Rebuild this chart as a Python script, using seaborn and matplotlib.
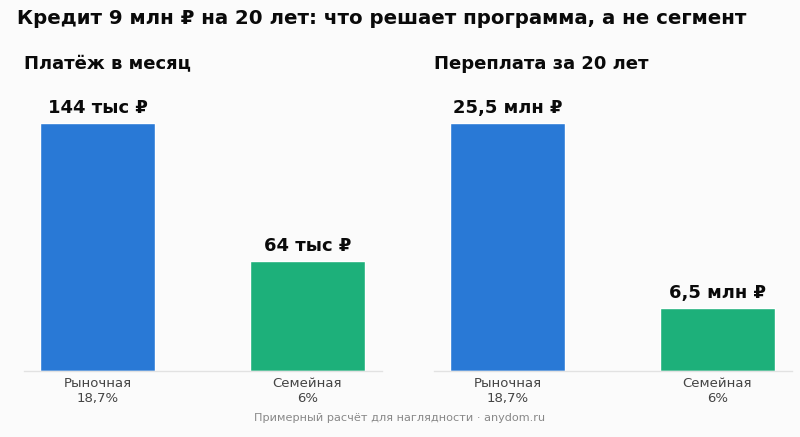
import numpy as np
import pandas as pd
import matplotlib
matplotlib.use("Agg")
import matplotlib.pyplot as plt
import seaborn as sns

sns.set_theme(style="white")
plt.rcParams["font.family"] = ["DejaVu Sans"]

# -------- data --------
categories = ["Рыночная\n18,7%", "Семейная\n6%"]
payment_k = [144, 64]            # тыс ₽ в месяц
overpay_m = [25.5, 6.5]          # млн ₽ за 20 лет
payment_labels = ["144 тыс ₽", "64 тыс ₽"]
overpay_labels = ["25,5 млн ₽", "6,5 млн ₽"]
panel_titles = ["Платёж в месяц", "Переплата за 20 лет"]
colors = ["#2979D6", "#1DB07A"]
BG = "#FBFBFB"

fig = plt.figure(figsize=(8, 4.37), dpi=100, facecolor=BG)
ax1 = fig.add_axes([0.03, 0.151, 0.4475, 0.643])
ax2 = fig.add_axes([0.5425, 0.151, 0.4475, 0.643])

panels = [
    (ax1, payment_k, payment_labels, panel_titles[0]),
    (ax2, overpay_m, overpay_labels, panel_titles[1]),
]
for ax, vals, labels, title in panels:
    ax.set_facecolor(BG)
    df = pd.DataFrame({"cat": categories, "val": vals})
    sns.barplot(data=df, x="cat", y="val", hue="cat", palette=colors,
                width=0.55, legend=False, ax=ax, saturation=1)
    ax.set_xlim(-0.35, 1.355)
    ax.set_ylim(0, max(vals) * 1.133)
    for i, (v, lab) in enumerate(zip(vals, labels)):
        ax.annotate(lab, (i, v), xytext=(0, 4), textcoords="offset points",
                    ha="center", va="bottom", fontsize=13, fontweight="bold",
                    color="#0A0A0A")
    ax.set_title(title, loc="left", fontsize=13, fontweight="bold",
                 color="#0A0A0A", pad=15, x=0.0)
    ax.set_xlabel("")
    ax.set_ylabel("")
    ax.set_yticks([])
    ax.tick_params(axis="x", length=0, labelsize=9.5, labelcolor="#444444", pad=4)
    for s in ["top", "right", "left"]:
        ax.spines[s].set_visible(False)
    ax.spines["bottom"].set_color("#E2E2E2")
    ax.spines["bottom"].set_linewidth(1.0)

fig.text(0.021, 0.957, "Кредит 9 млн ₽ на 20 лет: что решает программа, а не сегмент",
         fontsize=14.2, fontweight="bold", color="#0A0A0A", ha="left", va="center")
fig.text(0.5, 0.043, "Примерный расчёт для наглядности · anydom.ru",
         fontsize=8.1, color="#888888", ha="center", va="center")

fig.savefig("out.png", dpi=100, facecolor=BG)
